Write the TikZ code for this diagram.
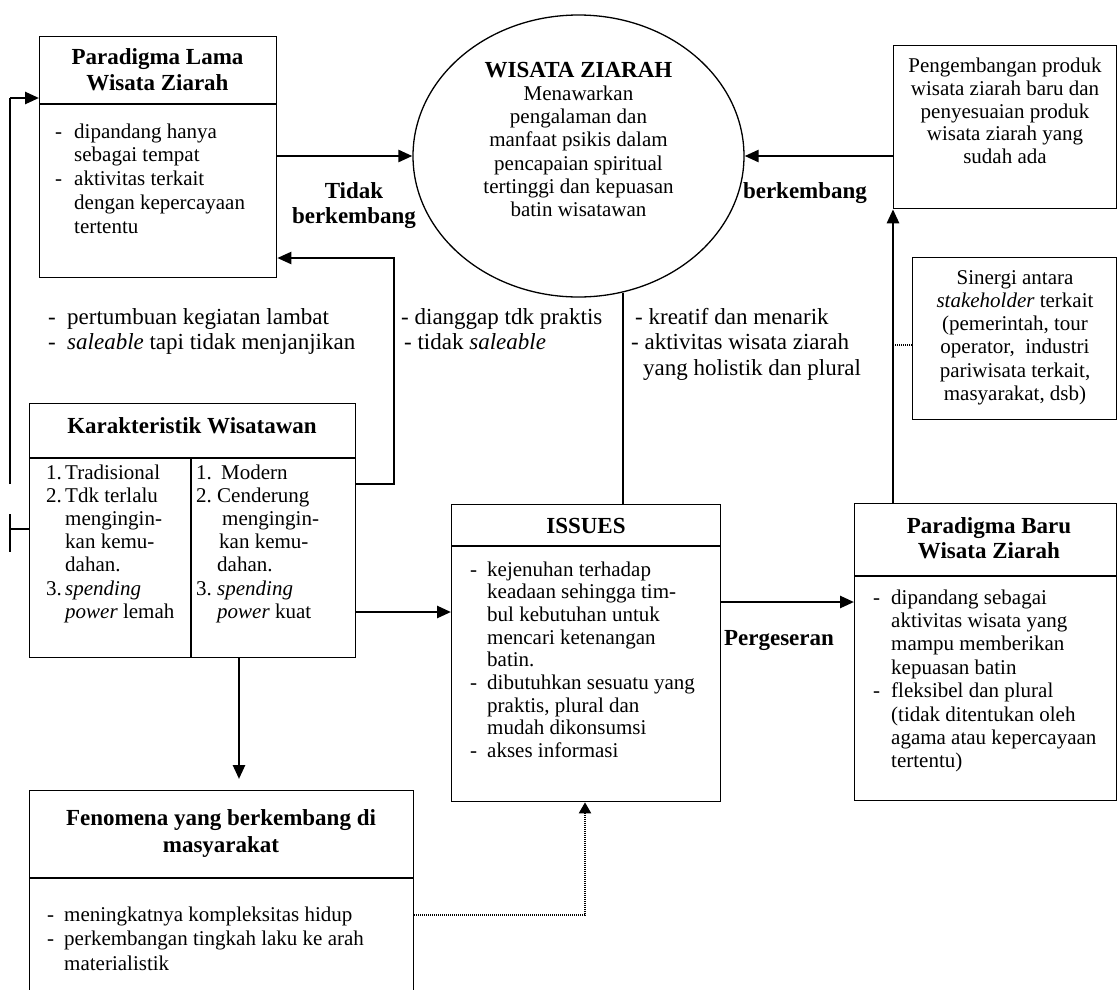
\documentclass[tikz,border=0pt]{standalone}
\usepackage{fontspec}
\setmainfont{Liberation Serif}
\usetikzlibrary{arrows.meta,shapes.geometric,calc}
\newcommand{\ctab}[1]{\begin{tabular}[t]{@{}c@{}}#1\end{tabular}}
\newcommand{\ltab}[1]{\begin{tabular}[t]{@{}l@{}}#1\end{tabular}}
\newcommand{\dtab}[2]{\begin{tabular}[t]{@{}p{#1}@{}l@{}}#2\end{tabular}}
\begin{document}
\begin{tikzpicture}[x=1pt,y=-1pt,
  box/.style={draw,line width=1.3pt,inner sep=0pt,anchor=north west},
  conn/.style={line width=2.6pt},
  arr/.style={line width=2.6pt,-{Triangle[length=14pt,width=12pt]}},
  thinln/.style={line width=1.3pt},
  dotln/.style={line width=2pt,dash pattern=on 1pt off 1pt},
  txt/.style={inner sep=0pt,anchor=base west},
  ctxt/.style={inner sep=0pt,anchor=base},
  bt/.style={font=\bfseries\fontsize{23}{25.5}\selectfont},
  lab/.style={font=\fontsize{23}{25.7}\selectfont},
]
\useasboundingbox (0,0) rectangle (1117,989);

% ---------- boxes ----------
\node[box,minimum width=237pt,minimum height=241pt] (lama) at (39,36) {};
\draw[thinln] (39,104) -- (276,104);
\node[draw,ellipse,line width=1.3pt,inner sep=0pt,minimum width=331pt,minimum height=282pt] (zw) at (578.5,156) {};
\node[box,minimum width=223pt,minimum height=163pt] (peng) at (893,45) {};
\node[box,minimum width=204pt,minimum height=162pt] (sin) at (912,257) {};
\node[box,minimum width=326pt,minimum height=254pt] (kar) at (29,403) {};
\draw[thinln] (29,458) -- (355,458);
\draw[thinln] (191,458) -- (191,657);
\node[box,minimum width=269pt,minimum height=297pt] (iss) at (451,504) {};
\draw[thinln] (451,546) -- (720,546);
\node[box,minimum width=262pt,minimum height=297pt] (baru) at (854,503) {};
\draw[thinln] (854,576) -- (1116,576);
\begin{scope}
\clip (0,0) rectangle (1117,989);
\node[box,minimum width=384pt,minimum height=300pt] (fen) at (29,790) {};
\end{scope}
\draw[thinln] (29,878) -- (413,878);

% ---------- texts ----------
\node[ctxt,font=\bfseries\fontsize{23}{26}\selectfont] (lamat) at (157.5,64) {\ctab{Paradigma Lama\\Wisata Ziarah}};
\node[txt,font=\fontsize{21}{23.75}\selectfont] (lamab) at (55,138) {\dtab{19pt}{-&dipandang hanya\\&sebagai tempat\\-&aktivitas terkait\\&dengan kepercayaan\\&tertentu}};

\node[ctxt,bt] (zwt) at (578.5,77) {WISATA ZIARAH};
\node[ctxt,font=\fontsize{21}{23.2}\selectfont] (zwb) at (578.5,100.5) {\ctab{Menawarkan\\pengalaman dan\\manfaat psikis dalam\\pencapaian spiritual\\tertinggi dan kepuasan\\batin wisatawan}};

\node[ctxt,font=\fontsize{21}{22.75}\selectfont] (pengt) at (1005,72.5) {\ctab{Pengembangan produk\\wisata ziarah baru dan\\penyesuaian produk\\wisata ziarah yang\\sudah ada}};

\node[ctxt,font=\fontsize{21}{23.3}\selectfont] (sint) at (1015,284) {\ctab{Sinergi antara\\\textit{stakeholder} terkait\\(pemerintah, tour\\operator,\ \ industri\\pariwisata terkait,\\masyarakat, dsb)}};

\node[ctxt,bt] (kart) at (192,433) {Karakteristik Wisatawan};
\node[txt,font=\fontsize{21}{23.2}\selectfont] (karl) at (46,479) {\dtab{19pt}{1.&Tradisional\\2.&Tdk terlalu\\&mengingin-\\&kan kemu-\\&dahan.\\3.&\textit{spending}\\&\textit{power} lemah}};
\node[txt,font=\fontsize{21}{23.2}\selectfont] (karr) at (196,479) {\dtab{21pt}{1.&\hspace{4pt}Modern\\2.&Cenderung\\&\hspace{5pt}mengingin-\\&\hspace{2pt}kan kemu-\\&dahan.\\3.&\textit{spending}\\&\textit{power} kuat}};

\node[ctxt,bt] (isst) at (586,533) {ISSUES};
\node[txt,font=\fontsize{21}{22.7}\selectfont] (issb) at (470,576) {\dtab{17pt}{-&kejenuhan terhadap\\&keadaan sehingga tim-\\&bul kebutuhan untuk\\&mencari ketenangan\\&batin.\\-&dibutuhkan sesuatu yang\\&praktis, plural dan\\&mudah dikonsumsi\\-&akses informasi}};

\node[ctxt,bt] (barut) at (989,533) {\ctab{Paradigma Baru\\Wisata Ziarah}};
\node[txt,font=\fontsize{21}{23.4}\selectfont] (barub) at (873,604) {\dtab{18pt}{-&dipandang sebagai\\&aktivitas wisata yang\\&mampu memberikan\\&kepuasan batin\\-&fleksibel dan plural\\&(tidak ditentukan oleh\\&agama atau kepercayaan\\&tertentu)}};

\node[ctxt,font=\bfseries\fontsize{23}{27}\selectfont] (fent) at (221,825) {\ctab{Fenomena yang berkembang di\\masyarakat}};
\node[txt,font=\fontsize{21}{24.5}\selectfont] (fenb) at (47,921) {\dtab{17pt}{-&meningkatnya kompleksitas hidup\\-&perkembangan tingkah laku ke arah\\&materialistik}};

% ---------- connector labels ----------
\node[ctxt,font=\bfseries\fontsize{23}{25}\selectfont] (l1) at (354,198) {\ctab{Tidak\\berkembang}};
\node[ctxt,bt] (l2) at (805,198) {berkembang};
\node[ctxt,bt] (l3) at (779,645) {Pergeseran};
\node[txt,lab] (l4) at (48,324) {\dtab{19pt}{-&pertumbuan kegiatan lambat\\-&\textit{saleable} tapi tidak menjanjikan}};
\node[txt,lab] (l5) at (401,324) {\ltab{- dianggap tdk praktis\\\hspace{3pt}- tidak \textit{saleable}}};
\node[txt,lab] (l6) at (631,324) {\ltab{\hspace{4pt}- kreatif dan menarik\\- aktivitas wisata ziarah\\\hspace{12pt}yang holistik dan plural}};

% ---------- connectors ----------
\draw[arr] (lama.east |- zw.west) -- (zw.west);
\draw[arr] (peng.west |- zw.east) -- (zw.east);
\draw[arr] (peng.south west |- baru.north) -- (peng.south west);
\coordinate (sj) at (893,345);
\draw[dotln] (sin.west |- sj) -- (sj);
\coordinate (zb) at (zw.-72);
\draw[conn] (zb) -- (zb |- iss.north);
\coordinate (a1) at ($(iss.north east)+(0,98)$);
\draw[arr] (a1) -- (a1 -| baru.west);
\coordinate (a2) at ($(kar.north east)+(0,209)$);
\draw[arr] (a2) -- (a2 -| iss.west);
\coordinate (kd) at ($(kar.south west)+(210,0)$);
\draw[arr,shorten >=11pt] (kd) -- (kd |- fen.north);
\coordinate (a4) at ($(kar.north east)+(0,81)$);
\draw[line width=2.2pt,-{Triangle[length=14pt,width=12pt]}] (a4) -- ++(38,0) |- ($(lama.north east)+(0,222)$);
\coordinate (lb) at (10,484);
\coordinate (lt) at (10,98);
\draw[thinln] (lb) -- (lt);
\draw[arr] (lt) -- (lt -| lama.west);
\coordinate (tk1) at (10,514);
\coordinate (tk2) at (10,552);
\coordinate (tk3) at (10,529);
\draw[thinln] (tk1) -- (tk2);
\draw[thinln] (tk3) -- (tk3 -| kar.west);
\coordinate (f1) at ($(fen.north east)+(0,125)$);
\draw[dotln,-{Triangle[length=11pt,width=12pt]}] (f1) -| ($(iss.south west)+(134,0)$);
\end{tikzpicture}
\end{document}
